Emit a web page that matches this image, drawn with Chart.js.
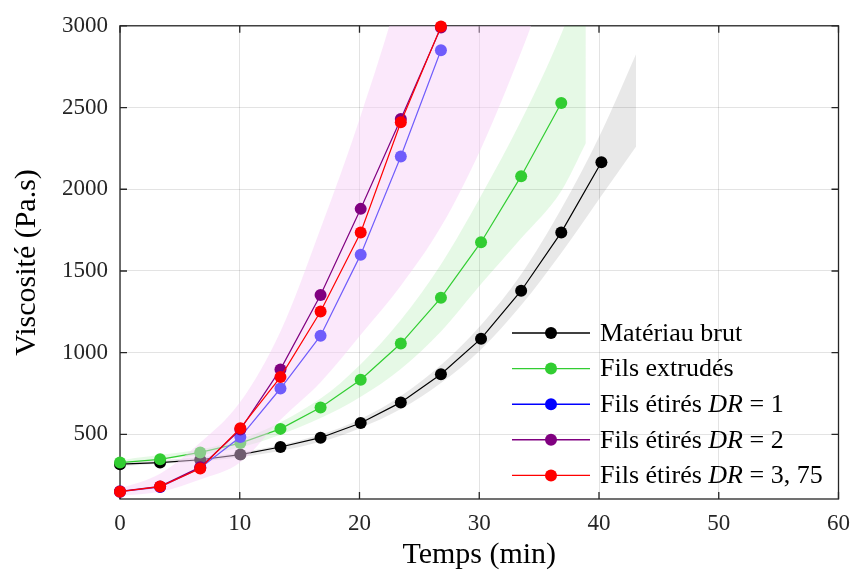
<!DOCTYPE html>
<html>
<head>
<meta charset="utf-8">
<script src="https://cdn.jsdelivr.net/npm/chart.js@4.4.0/dist/chart.umd.min.js"></script>
<style>
    html, body { margin: 0; padding: 0; background: #ffffff; }
    #wrap { width: 861px; height: 579px; }
</style>
</head>
<body>
<div id="wrap"><canvas id="myChart" width="861" height="579"></canvas></div>
<script>
// temps de mesure (min)
const temps = [0, 3.35, 6.7, 10.05, 13.4, 16.75, 20.1, 23.45, 26.8, 30.15, 33.5, 36.85, 40.2];

// viscosité (Pa.s) de chaque série
const viscoBrut = [318, 328, 345, 377, 423, 480, 570, 696, 868, 1086, 1379, 1736, 2165];
const viscoExtrudes = [328, 348, 390, 447, 534, 665, 835, 1056, 1336, 1676, 2080, 2528];
const viscoDR1 = [150, 178, 295, 484, 781, 1104, 1600, 2200, 2850];
const viscoDR2 = [152, 182, 300, 530, 898, 1353, 1880, 2430, 2990];
const viscoDR375 = [150, 181, 292, 538, 851, 1252, 1735, 2410, 2995];

// bandes (enveloppes) autour des séries
const bandeBrutT = [0, 10.05, 16.75, 20.1, 23.45, 26.8, 30.15, 33.5, 36.85, 40.2, 43.1];
const bandeBrutHaut = [325, 390, 500, 595, 735, 925, 1170, 1480, 1880, 2350, 2827];
const bandeBrutBas = [305, 360, 455, 540, 655, 815, 1020, 1290, 1610, 1960, 2262];

const bandeExtT = [0, 10.05, 16.75, 20.1, 23.45, 26.8, 30.15, 33.5, 36.85, 38.9];
const bandeExtHaut = [340, 470, 720, 930, 1200, 1540, 1960, 2420, 2950, 3350];
const bandeExtBas = [320, 420, 600, 730, 900, 1130, 1420, 1700, 1990, 2282];

const bandeEtT = [0, 3.35, 6.7, 10.05, 13.4, 16.75, 20.1, 23.45, 26.8, 30.15, 33.5, 36.85];
const bandeEtHaut = [170, 260, 450, 700, 1130, 1760, 2450, 3250, 4300, 5500, 6800, 8000];
const bandeEtBas = [125, 150, 225, 330, 590, 820, 1110, 1410, 1770, 2250, 2840, 3500];

// axes
const xTicks = [0, 10, 20, 30, 40, 50, 60];
const yTicks = [500, 1000, 1500, 2000, 2500, 3000];

const serif = "'Liberation Serif', 'DejaVu Serif', serif";

function pts(xs, ys) {
    return ys.map(function (y, i) { return { x: xs[i], y: y }; });
}

function serie(label, ys, color, order) {
    return {
        label: label,
        data: pts(temps, ys),
        borderColor: color,
        backgroundColor: color,
        borderWidth: 1.2,
        pointRadius: 6,
        pointBorderWidth: 0,
        pointBackgroundColor: color,
        tension: 0,
        fill: false,
        clip: false,
        order: order
    };
}

function bande(xs, ys, color, target, order) {
    return {
        label: '',
        data: pts(xs, ys),
        borderWidth: 0,
        borderColor: 'rgba(0,0,0,0)',
        pointRadius: 0,
        backgroundColor: color,
        fill: target === null ? false : { target: target },
        cubicInterpolationMode: 'monotone',
        order: order
    };
}

// légende : trait + point, texte avec DR en italique
const legende = [
    { color: '#000000', parts: [['Matériau brut', false]] },
    { color: '#32cd32', parts: [['Fils extrudés', false]] },
    { color: '#0000ff', parts: [['Fils étirés ', false], ['DR', true], [' = 1', false]] },
    { color: '#800080', parts: [['Fils étirés ', false], ['DR', true], [' = 2', false]] },
    { color: '#ff0000', parts: [['Fils étirés ', false], ['DR', true], [' = 3, 75', false]] }
];

const cadrePlugin = {
    id: 'cadre',
    beforeDatasetsDraw: function (chart) {
        const c = chart.ctx, a = chart.chartArea;
        const xs = chart.scales.x, ys = chart.scales.y;
        c.save();
        c.strokeStyle = '#262626';
        c.lineWidth = 1.3;
        c.strokeRect(a.left, a.top, a.right - a.left, a.bottom - a.top);
        c.beginPath();
        xTicks.forEach(function (v) {
            const px = xs.getPixelForValue(v);
            c.moveTo(px, a.bottom); c.lineTo(px, a.bottom - 7);
            c.moveTo(px, a.top); c.lineTo(px, a.top + 7);
        });
        yTicks.forEach(function (v) {
            const py = ys.getPixelForValue(v);
            c.moveTo(a.left, py); c.lineTo(a.left + 7, py);
            c.moveTo(a.right, py); c.lineTo(a.right - 7, py);
        });
        c.stroke();
        c.restore();
    }
};

const legendePlugin = {
    id: 'legende',
    afterDraw: function (chart) {
        const c = chart.ctx;
        const x0 = 512, x1 = 590, xt = 600, y0 = 333, dy = 35.6;
        c.save();
        legende.forEach(function (item, i) {
            const y = y0 + i * dy;
            c.strokeStyle = item.color;
            c.lineWidth = 1.4;
            c.beginPath();
            c.moveTo(x0, y); c.lineTo(x1, y);
            c.stroke();
            c.fillStyle = item.color;
            c.beginPath();
            c.arc((x0 + x1) / 2, y, 6, 0, Math.PI * 2);
            c.fill();
            let x = xt;
            c.fillStyle = '#000000';
            c.textBaseline = 'middle';
            c.textAlign = 'left';
            item.parts.forEach(function (p) {
                c.font = (p[1] ? 'italic ' : '') + '26px ' + serif;
                c.fillText(p[0], x, y + 1);
                x += c.measureText(p[0]).width;
            });
        });
        c.restore();
    }
};

var ctx = document.getElementById('myChart').getContext('2d');

var chart = new Chart(ctx, {
    type: 'line',
    data: {
        datasets: [
            bande(bandeBrutT, bandeBrutHaut, 'rgba(0,0,0,0.09)', 1, 80),
            bande(bandeBrutT, bandeBrutBas, 'rgba(0,0,0,0)', null, 80),
            bande(bandeExtT, bandeExtHaut, 'rgba(50,205,50,0.12)', 3, 70),
            bande(bandeExtT, bandeExtBas, 'rgba(0,0,0,0)', null, 70),
            serie('Matériau brut', viscoBrut, '#000000', 60),
            serie('Fils extrudés', viscoExtrudes, '#32cd32', 50),
            serie('Fils étirés DR = 1', viscoDR1, '#0000ff', 40),
            bande(bandeEtT, bandeEtHaut, 'rgba(247,204,247,0.45)', 8, 30),
            bande(bandeEtT, bandeEtBas, 'rgba(0,0,0,0)', null, 30),
            serie('Fils étirés DR = 2', viscoDR2, '#800080', 20),
            serie('Fils étirés DR = 3,75', viscoDR375, '#ff0000', 10)
        ]
    },
    options: {
        responsive: false,
        animation: false,
        layout: { padding: { top: 22, right: 16, left: 0, bottom: 0 } },
        plugins: {
            legend: { display: false },
            tooltip: { enabled: false },
            filler: { drawTime: 'beforeDatasetDraw' }
        },
        scales: {
            x: {
                type: 'linear',
                min: 0,
                max: 60,
                afterFit: function (s) { s.height = 80; },
                afterBuildTicks: function (s) { s.ticks = xTicks.map(function (v) { return { value: v }; }); },
                grid: { color: 'rgba(0,0,0,0.11)', lineWidth: 1, drawTicks: false },
                border: { display: false },
                ticks: {
                    padding: 11,
                    color: '#262626',
                    font: { family: serif, size: 23 },
                    maxRotation: 0,
                    callback: function (v) { return String(v); }
                },
                title: {
                    display: true,
                    text: 'Temps (min)',
                    color: '#000000',
                    font: { family: serif, size: 30 },
                    padding: { top: 0, bottom: 6 }
                }
            },
            y: {
                type: 'linear',
                min: 105,
                max: 3000,
                afterFit: function (s) { s.width = 120; },
                afterBuildTicks: function (s) { s.ticks = yTicks.map(function (v) { return { value: v }; }); },
                grid: { color: 'rgba(0,0,0,0.11)', lineWidth: 1, drawTicks: false },
                border: { display: false },
                ticks: {
                    padding: 12,
                    color: '#262626',
                    font: { family: serif, size: 23 },
                    callback: function (v) { return String(v); }
                },
                title: {
                    display: true,
                    text: 'Viscosité (Pa.s)',
                    color: '#000000',
                    font: { family: serif, size: 30 },
                    padding: { top: 9, bottom: 0 }
                }
            }
        }
    },
    plugins: [cadrePlugin, legendePlugin]
});
</script>
</body>
</html>
